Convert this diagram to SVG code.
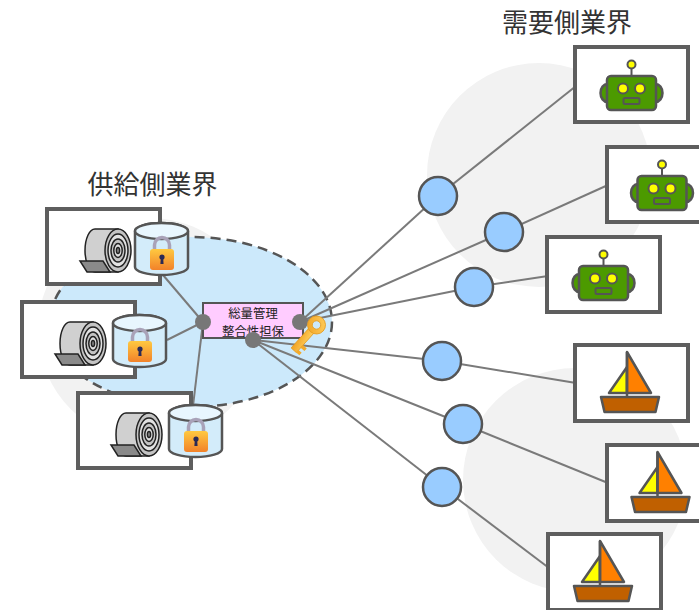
<svg xmlns="http://www.w3.org/2000/svg" width="699" height="610" viewBox="0 0 699 610">
  <defs>
    <style>
      .title { font-family: "Noto Sans CJK JP", "Noto Sans CJK SC", sans-serif; font-size: 26px; fill: #333; text-anchor: middle; }
      .hubtext { font-family: "Noto Sans CJK JP", "Noto Sans CJK SC", sans-serif; font-size: 12.4px; fill: #222; text-anchor: middle; }
      .frame { fill: #fff; stroke: #5e5e5e; stroke-width: 4; }
      .link { stroke: #7a7a7a; stroke-width: 2; fill: none; }
      .relay { fill: #99ccff; stroke: #555; stroke-width: 2.5; }
      .port { fill: #777; }
      .ink { stroke: #222; stroke-width: 1.5; }
      .outline { stroke: #555; stroke-width: 2.5; }
    </style>
    <linearGradient id="lockGrad" x1="0" y1="0" x2="0" y2="1">
      <stop offset="0" stop-color="#ffc940"/>
      <stop offset="1" stop-color="#f2822a"/>
    </linearGradient>
    <linearGradient id="keyGrad" x1="0" y1="0" x2="1" y2="1">
      <stop offset="0" stop-color="#ffd060"/>
      <stop offset="1" stop-color="#f0a020"/>
    </linearGradient>

    <!-- paper roll, coordinates relative to the frame's top-left corner -->
    <g id="roll">
      <path class="ink" d="M71,20 L48,20 A10,21.5 0 0 0 48,63 L71,63 Z" fill="#d0d0d0"/>
      <path class="ink" d="M33,52 L56,52 L63,63 L40,63 Z" fill="#8a8a8a"/>
      <ellipse class="ink" cx="71" cy="41.5" rx="13" ry="21.5" fill="#c4c4c4"/>
      <ellipse class="ink" cx="71" cy="41.5" rx="10" ry="16.5" fill="#e2e2e2"/>
      <ellipse class="ink" cx="71" cy="41.5" rx="7" ry="11.5" fill="#c4c4c4"/>
      <ellipse class="ink" cx="71" cy="41.5" rx="4.2" ry="7" fill="#e2e2e2"/>
      <ellipse class="ink" cx="71" cy="41.5" rx="1.6" ry="3" fill="#888"/>
    </g>

    <!-- locked storage cylinder, origin at top-left -->
    <g id="vault">
      <path class="outline" d="M0,8 A26.5,8 0 0 1 53,8 L53,44 A26.5,8 0 0 1 0,44 Z" fill="#d3ecfa"/>
      <ellipse class="outline" cx="26.5" cy="8" rx="26.5" ry="8" fill="#e8f6fe"/>
      <path d="M19.5,27 L19.5,22 A7.5,7.5 0 0 1 34.5,22 L34.5,27" fill="none" stroke="#a9a2b8" stroke-width="3.5"/>
      <rect x="15" y="26" width="24" height="21" rx="3" fill="url(#lockGrad)"/>
      <circle cx="27" cy="34" r="2.6" fill="#2b2a55"/>
      <path d="M25.8,35 L28.2,35 L28.6,41 L25.4,41 Z" fill="#2b2a55"/>
    </g>

    <!-- robot icon, origin at frame centre -->
    <g id="robot">
      <line x1="0" y1="-17" x2="0" y2="-9" stroke="#555" stroke-width="2"/>
      <circle cx="0" cy="-20.5" r="4" fill="#ffff00" stroke="#555" stroke-width="2"/>
      <ellipse cx="-24" cy="8" rx="7" ry="9" fill="#4c9a00" stroke="#555" stroke-width="2.5"/>
      <ellipse cx="24" cy="8" rx="7" ry="9" fill="#4c9a00" stroke="#555" stroke-width="2.5"/>
      <rect x="-24.5" y="-9" width="49" height="34" rx="4" fill="#4c9a00" stroke="#555" stroke-width="2.5"/>
      <circle cx="-8.5" cy="3.5" r="5" fill="#ffff00" stroke="#555" stroke-width="2"/>
      <circle cx="8.5" cy="3.5" r="5" fill="#ffff00" stroke="#555" stroke-width="2"/>
      <rect x="-8" y="13" width="16" height="6" rx="1.5" fill="#4c9a00" stroke="#555" stroke-width="2"/>
    </g>

    <!-- sailing boat icon, origin at frame centre -->
    <g id="boat">
      <path d="M-4.5,-16 L-22.5,10 L-4.5,10 Z" fill="#ffff00" stroke="#555" stroke-width="2.5" stroke-linejoin="round"/>
      <path d="M-4.5,-31 L19.5,10 L-4.5,10 Z" fill="#ff8000" stroke="#555" stroke-width="2.5" stroke-linejoin="round"/>
      <line x1="-4.5" y1="-31" x2="-4.5" y2="14" stroke="#555" stroke-width="2.5"/>
      <path d="M-30.5,14 L27.5,14 L24,29 L-27,29 Z" fill="#c06000" stroke="#555" stroke-width="2.5" stroke-linejoin="round"/>
    </g>
  </defs>

  <!-- soft background zones -->
  <g id="zones" fill="#f2f2f2">
    <circle cx="150" cy="330" r="112"/>
    <circle cx="539" cy="175" r="112"/>
    <circle cx="575" cy="480" r="112"/>
  </g>

  <!-- supply-side pool -->
  <ellipse id="pool" cx="191" cy="322" rx="141" ry="85" fill="#cce9fb" stroke="#555" stroke-width="2.5" stroke-dasharray="10 6"/>

  <!-- connectors -->
  <g id="connectors">
    <line class="link" x1="203" y1="322" x2="163" y2="275"/>
    <line class="link" x1="203" y1="322" x2="167" y2="340"/>
    <line class="link" x1="203" y1="322" x2="193" y2="406"/>
    <line class="link" x1="300" y1="322" x2="438" y2="196"/>
    <line class="link" x1="300" y1="322" x2="504" y2="232"/>
    <line class="link" x1="300" y1="322" x2="474" y2="287"/>
    <line class="link" x1="253" y1="340" x2="442" y2="361"/>
    <line class="link" x1="253" y1="340" x2="463" y2="424"/>
    <line class="link" x1="253" y1="340" x2="442" y2="487"/>
    <line class="link" x1="438" y1="196" x2="576" y2="86"/>
    <line class="link" x1="504" y1="232" x2="608" y2="185"/>
    <line class="link" x1="474" y1="287" x2="548" y2="276"/>
    <line class="link" x1="442" y1="361" x2="576" y2="383"/>
    <line class="link" x1="463" y1="424" x2="608" y2="483"/>
    <line class="link" x1="442" y1="487" x2="549" y2="568"/>
  </g>

  <!-- titles -->
  <text id="supply-title" class="title" x="152.5" y="194">供給側業界</text>
  <text id="demand-title" class="title" x="567" y="32">需要側業界</text>

  <!-- supply side -->
  <g id="supplier-1">
    <rect class="frame" x="47" y="209" width="113" height="75"/>
    <use href="#roll" transform="translate(47,209)"/>
    <use href="#vault" transform="translate(135,223)"/>
  </g>
  <g id="supplier-2">
    <rect class="frame" x="22" y="302" width="113" height="75"/>
    <use href="#roll" transform="translate(22,302)"/>
    <use href="#vault" transform="translate(113,315)"/>
  </g>
  <g id="supplier-3">
    <rect class="frame" x="78" y="393" width="113" height="75"/>
    <use href="#roll" transform="translate(78,393)"/>
    <use href="#vault" transform="translate(169,405)"/>
  </g>

  <!-- central hub -->
  <g id="hub">
    <rect x="203" y="303" width="100" height="35" fill="#ffccff" stroke="#555" stroke-width="2"/>
    <text class="hubtext" x="253" y="318">総量管理</text>
    <text class="hubtext" x="253" y="336">整合性担保</text>
    <circle class="port" cx="203" cy="322" r="8"/>
    <circle class="port" cx="300" cy="322" r="8"/>
    <circle class="port" cx="253" cy="340" r="8"/>
  </g>

  <!-- key -->
  <g id="key" transform="translate(316.5,325) rotate(132)">
    <path d="M7,-3.5 L34,-3.5 L34,3.5 L7,3.5 Z" fill="url(#keyGrad)" stroke="#e39a1e" stroke-width="0.8"/>
    <path d="M24,-3 L24,-8.5 L27.5,-8.5 L27.5,-3 Z M30.5,-3 L30.5,-7.5 L34,-7.5 L34,-3 Z" fill="#f3aa2a"/>
    <circle cx="0" cy="0" r="9" fill="url(#keyGrad)" stroke="#e39a1e" stroke-width="0.8"/>
    <circle cx="0" cy="0" r="4.2" fill="#cce9fb" stroke="#e39a1e" stroke-width="0.8"/>
  </g>

  <!-- relay points -->
  <g id="relays">
    <circle id="relay-1" class="relay" cx="438" cy="196" r="19"/>
    <circle id="relay-2" class="relay" cx="504" cy="232" r="19"/>
    <circle id="relay-3" class="relay" cx="474" cy="287" r="19"/>
    <circle id="relay-4" class="relay" cx="442" cy="361" r="19"/>
    <circle id="relay-5" class="relay" cx="463" cy="424" r="19"/>
    <circle id="relay-6" class="relay" cx="442" cy="487" r="19"/>
  </g>

  <!-- demand side -->
  <g id="robot-1">
    <rect class="frame" x="575" y="47" width="113" height="75"/>
    <use href="#robot" transform="translate(631.5,85)"/>
  </g>
  <g id="robot-2">
    <rect class="frame" x="607" y="147" width="113" height="75"/>
    <use href="#robot" transform="translate(662,185)"/>
  </g>
  <g id="robot-3">
    <rect class="frame" x="547" y="237" width="113" height="75"/>
    <use href="#robot" transform="translate(603.5,275)"/>
  </g>
  <g id="boat-1">
    <rect class="frame" x="575" y="345" width="113" height="76"/>
    <use href="#boat" transform="translate(631.5,383)"/>
  </g>
  <g id="boat-2">
    <rect class="frame" x="607" y="445" width="113" height="76"/>
    <use href="#boat" transform="translate(662,483)"/>
  </g>
  <g id="boat-3">
    <rect class="frame" x="548" y="534" width="113" height="76"/>
    <use href="#boat" transform="translate(604.5,572)"/>
  </g>
</svg>
